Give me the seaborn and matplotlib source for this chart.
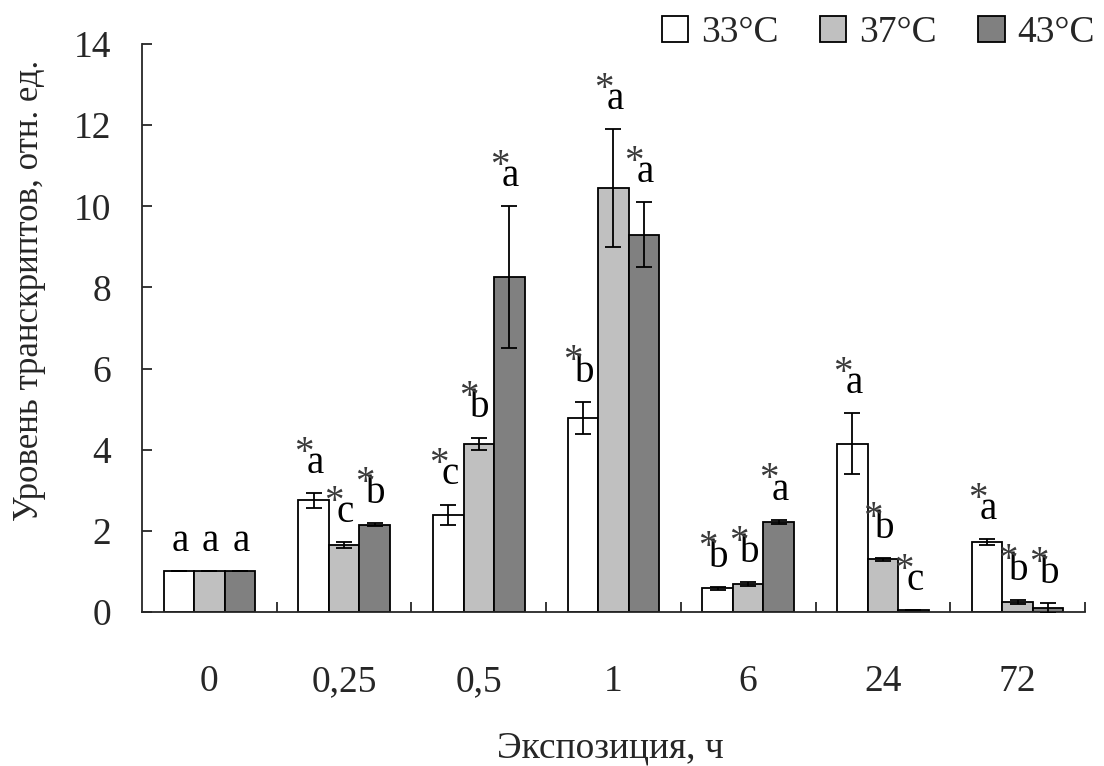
import numpy as np
import pandas as pd
import seaborn as sns
import matplotlib
matplotlib.use("Agg")
import matplotlib.pyplot as plt
from matplotlib.patches import Patch

# ---- data ----
times = ["0", "0,25", "0,5", "1", "6", "24", "72"]
temps = ["33°C", "37°C", "43°C"]
vals_33 = [1.0, 2.75, 2.40, 4.78, 0.58, 4.15, 1.72]
vals_37 = [1.0, 1.65, 4.15, 10.45, 0.68, 1.30, 0.25]
vals_43 = [1.0, 2.15, 8.25, 9.30, 2.22, 0.04, 0.10]
err_33 = [0.0, 0.18, 0.25, 0.40, 0.03, 0.75, 0.07]
err_37 = [0.0, 0.07, 0.15, 1.45, 0.05, 0.03, 0.04]
err_43 = [0.0, 0.04, 1.75, 0.80, 0.05, 0.00, 0.12]
let_33 = ["a", "a", "c", "b", "b", "a", "a"]
let_37 = ["a", "c", "b", "a", "b", "b", "b"]
let_43 = ["a", "b", "a", "a", "a", "c", "b"]
star_33 = [False, True, True, True, True, True, True]
star_37 = [False, True, True, True, True, True, True]
star_43 = [False, True, True, True, True, True, True]
colors = ["#ffffff", "#c0c0c0", "#808080"]

vals = [vals_33, vals_37, vals_43]
errs = [err_33, err_37, err_43]
lets = [let_33, let_37, let_43]
stars = [star_33, star_37, star_43]

df = pd.DataFrame({
    "time": times * 3,
    "temp": [t for t in temps for _ in times],
    "value": vals_33 + vals_37 + vals_43,
})

sns.set_style("ticks")
plt.rcParams["font.family"] = ["Liberation Serif", "DejaVu Serif"]

fig = plt.figure(figsize=(11.04, 7.66), dpi=100)
ax = fig.add_axes([0.1286, 0.201, 0.8542, 0.7416])

sns.barplot(data=df, x="time", y="value", hue="temp", order=times,
            hue_order=temps, palette=colors, edgecolor="black",
            linewidth=1.3, width=0.68, errorbar=None, legend=False,
            saturation=1, ax=ax)

bar_conts = list(ax.containers)
for i, cont in enumerate(bar_conts):
    xs = [b.get_x() + b.get_width() / 2 for b in cont]
    ys = vals[i]
    es = errs[i]
    ax.errorbar(xs, ys, yerr=es, fmt="none", ecolor="black",
                elinewidth=1.3, capsize=5.5, capthick=1.3, zorder=5)
    for x, y, e, l, s in zip(xs, ys, es, lets[i], stars[i]):
        top = y + e
        ax.annotate(l, (x, top), xytext=(1, 8), textcoords="offset points",
                    ha="center", va="bottom", fontsize=28, color="black")
        if s:
            ax.annotate("*", (x, top), xytext=(-7, 22),
                        textcoords="offset points", ha="center",
                        va="baseline", fontsize=28, color="#3a3a3a")

ax.set_xlim(-0.5, 6.5)
ax.set_ylim(0, 14)
ax.set_yticks(np.arange(0, 15, 2))
ax.set_xticks(range(len(times)))
ax.set_xticklabels(times)
ax.set_xticks(np.arange(0.5, 6.6, 1), minor=True)
ax.tick_params(axis="x", which="major", length=0, pad=38, labelsize=27)
ax.tick_params(axis="x", which="minor", direction="in", length=7, width=1.3)
ax.tick_params(axis="y", direction="in", length=7, width=1.3, pad=22,
               labelsize=27)
sns.despine(ax=ax)
for sp in ["left", "bottom"]:
    ax.spines[sp].set_linewidth(1.3)

ax.set_xlabel("Экспозиция, ч", fontsize=27, va="center")
ax.xaxis.set_label_coords(0.497, -0.239)
ax.set_ylabel("Уровень транскриптов, отн. ед.", fontsize=25, va="center")
ax.yaxis.set_label_coords(-0.119, 0.567)

handles = [Patch(facecolor=c, edgecolor="black", linewidth=1.3) for c in colors]
fig.legend(handles, temps, loc="center right", bbox_to_anchor=(0.992, 0.957),
           ncol=3, frameon=False, fontsize=27, handlelength=0.7,
           handleheight=0.7, handletextpad=0.35, columnspacing=1.1,
           borderaxespad=0, borderpad=0)

fig.savefig("out.png", dpi=100)
